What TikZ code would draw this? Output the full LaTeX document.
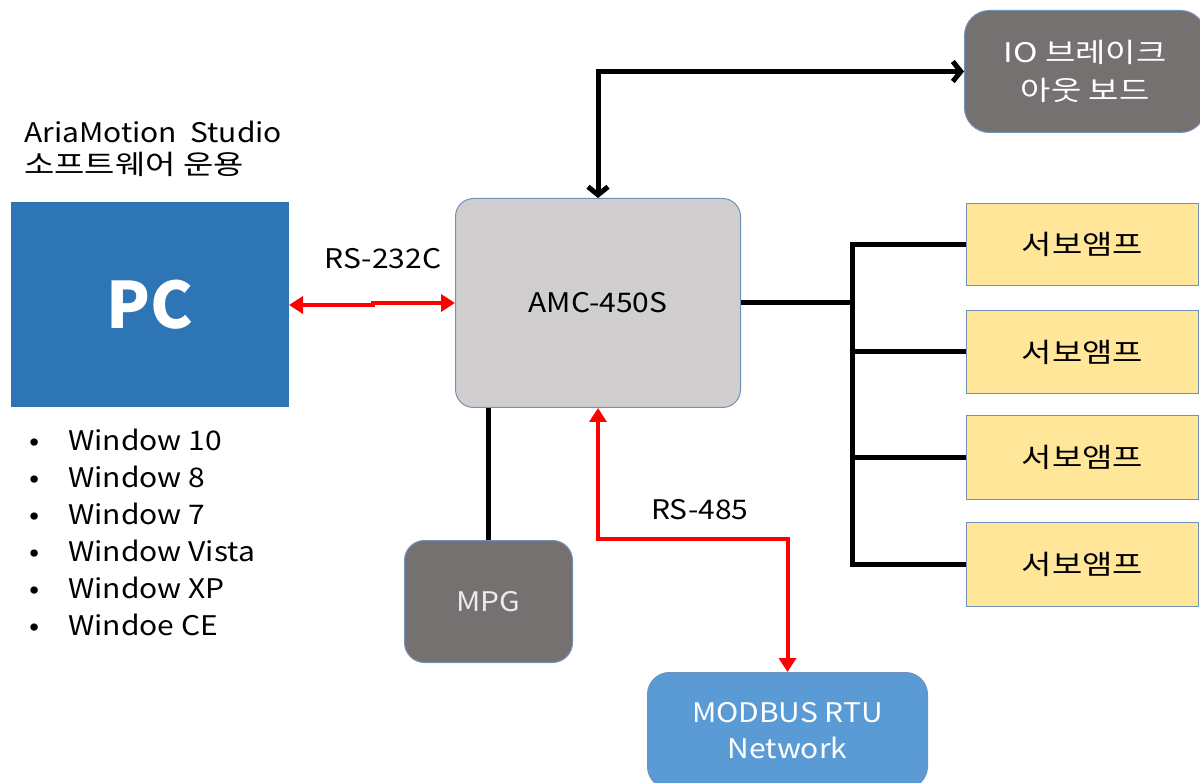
\documentclass[tikz,border=0pt]{standalone}
\usepackage{fontspec}
\setmainfont{Noto Sans CJK KR}[FakeStretch=1.11]
\newfontfamily\kr{Noto Sans CJK KR}[FakeStretch=1.22]
\newfontfamily\pcfont{Noto Sans CJK KR}
\usetikzlibrary{arrows.meta}
\definecolor{pcblue}{HTML}{2E75B6}
\definecolor{amcgray}{HTML}{D0CECE}
\definecolor{dkgray}{HTML}{767171}
\definecolor{servo}{HTML}{FFE699}
\definecolor{modbus}{HTML}{5B9BD5}
\definecolor{edge}{HTML}{7291B8}
\definecolor{redline}{HTML}{FF0000}
\newcommand{\txt}{\fontsize{27}{38}\selectfont}
\begin{document}
\begin{tikzpicture}[x=1pt,y=-1pt,
  box/.style={draw=edge, line width=1pt, align=center, inner sep=0pt, anchor=north west, font=\txt},
  redarrow/.style={draw=redline, line width=4pt, {Triangle[length=14pt,width=17pt]}-{Triangle[length=14pt,width=17pt]}},
  blackarrow/.style={draw=black, line width=5pt, {Straight Barb[length=8pt,width=20pt]}-{Straight Barb[length=8pt,width=20pt]}},
  wire/.style={draw=black, line width=5pt},
  lbl/.style={font=\txt, inner sep=0pt}
]
\useasboundingbox (0,0) rectangle (1200,783);
\fill[white] (0,0) rectangle (1200,783);

% title and list
\node[font=\fontsize{27}{32}\selectfont, align=left, anchor=base west, inner sep=0pt] (title) at (24,175) {AriaMotion\ \ Studio\\{\kr 소프트웨어 운용}};
\node[font=\fontsize{27}{37}\selectfont, anchor=base west, inner sep=0pt] (list) at (29,451) {%
  \begin{tabular}[t]{@{}l@{\hspace{29pt}}l@{}}
  • & Window 10\\
  • & Window 8\\
  • & Window 7\\
  • & Window Vista\\
  • & Window XP\\
  • & Windoe CE
  \end{tabular}};

% boxes
\node[box, draw=none, fill=pcblue, minimum width=278pt, minimum height=205pt, text=white,
      font=\fontsize{64}{66}\selectfont\pcfont\bfseries] (pc) at (10,202) {PC};
\node[box, fill=amcgray, rounded corners=18pt, minimum width=285pt, minimum height=209pt] (amc) at (455,198) {AMC-450S};
\node[box, fill=dkgray, rounded corners=25pt, minimum width=241pt, minimum height=122pt, text=white, font=\txt\kr] (io) at (964,10) {IO 브레이크\\아웃 보드};
\node[box, fill=servo, minimum width=232pt, minimum height=82pt, font=\txt\kr] (s1) at (966,203) {서보앰프};
\node[box, fill=servo, minimum width=232pt, minimum height=83pt, font=\txt\kr] (s2) at (966,310) {서보앰프};
\node[box, fill=servo, minimum width=232pt, minimum height=84pt, font=\txt\kr] (s3) at (966,415) {서보앰프};
\node[box, fill=servo, minimum width=232pt, minimum height=84pt, font=\txt\kr] (s4) at (966,522) {서보앰프};
\node[box, fill=dkgray, rounded corners=20pt, minimum width=168pt, minimum height=122pt, text=white!92!black] (mpg) at (404,540) {MPG};
\node[box, fill=modbus, rounded corners=22pt, minimum width=280pt, minimum height=116pt, text=white, font=\fontsize{27}{36}\selectfont] (mb) at (647,672) {MODBUS RTU\\Network};

% connectors
\draw[redarrow] (pc.east) -- ([xshift=84pt]pc.east) |- (amc.west);
\node[lbl] (l232) at (383,259) {RS-232C};
\draw[blackarrow] (io.west) -| (amc.north);
\draw[wire] (amc.east) -- ++(114,0);
\draw[wire] (s1.west) -- ++(-114,0) |- (s4.west);
\draw[wire] (s2.west) -- ++(-114,0);
\draw[wire] (s3.west) -- ++(-114,0);
\draw[wire] (mpg.north) -- (mpg.north |- amc.south);
\draw[redarrow] (amc.south) -- ++(0,131) -| (mb.north);
\node[lbl] (l485) at (700,510) {RS-485};
\end{tikzpicture}
\end{document}
